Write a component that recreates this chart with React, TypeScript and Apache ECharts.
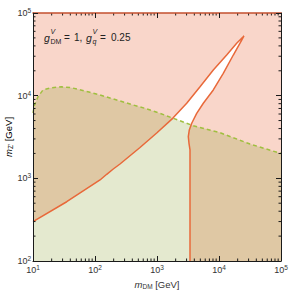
import React, { useEffect, useRef } from "react";
import * as echarts from "echarts";

// Dashed green boundary (m_DM [GeV], m_Z' [GeV])
const DASH_X = [10, 10.57, 12.05, 14.5, 19.7, 28.6, 41.5, 53.2, 80, 120, 224, 415, 640, 1117, 1832, 3846, 10000, 31620, 100000];
const DASH_Y = [6170, 7710, 9730, 11720, 12470, 12830, 12470, 11940, 11070, 10190, 8870, 7710, 7030, 6120, 5320, 4335, 3600, 2600, 1995];

// Orange contour: left (upper) branch, from left edge to the tip
const LEFT_X = [10, 35.0, 120.5, 154.5, 197, 253, 532, 989, 1791, 3013, 4943, 8090, 13300, 19280, 25290];
const LEFT_Y = [299, 521, 955, 1119, 1297, 1490, 2360, 3530, 5320, 8090, 12850, 20460, 31030, 42960, 52720];

// Orange contour: right branch, from the tip down to the bottom edge
const RIGHT_X = [25290, 23230, 17010, 11720, 8090, 5585, 4365, 3630, 3319, 3199, 3281, 3406, 3406];
const RIGHT_Y = [52720, 47100, 31030, 18660, 11720, 8090, 6120, 4634, 3846, 3192, 2655, 2203, 100];

const X_MIN = 10;
const X_MAX = 100000;
const Y_MIN = 100;
const Y_MAX = 100000;

const FONT = "'Liberation Sans', Arial, Helvetica, sans-serif";
const AXIS_COLOR = "#1a1a1a";
const PINK = "#f9d6ca";
const ORANGE = "#e8693a";
const DASH_GREEN = "#9fbf3f";
const GREEN_FILL = "rgba(120,145,15,0.2)";

function minorTicks(min: number, max: number): number[] {
  const out: number[] = [];
  for (let d = min; d < max; d *= 10) {
    for (let k = 2; k <= 9; k++) out.push(d * k);
  }
  return out;
}

const X_MINOR = minorTicks(X_MIN, X_MAX);
const Y_MINOR = minorTicks(Y_MIN, Y_MAX);

const zip = (xs: number[], ys: number[]) => xs.map((x, i) => [x, ys[i]]);

const supLabel = (v: number) => `{b|10}{s|${Math.round(Math.log10(v))}}`;

const labelRich = {
  b: { fontSize: 9, fontFamily: FONT, color: "#333" },
  s: { fontSize: 6.5, fontFamily: FONT, color: "#333", padding: [0, 0, 5, 0] },
};

const nameRich = {
  i: { fontSize: 9.5, fontFamily: FONT, fontStyle: "italic", color: "#333" },
  sub: { fontSize: 6.5, fontFamily: FONT, color: "#333", padding: [4, 0, 0, 0] },
  t: { fontSize: 9.5, fontFamily: FONT, color: "#333" },
};

function buildOption() {
  const contour = [...zip(LEFT_X, LEFT_Y), ...zip(RIGHT_X, RIGHT_Y).slice(1)];
  const dash = zip(DASH_X, DASH_Y);

  const polygonSeries = (pts: number[][], fill: string, z: number) => ({
    type: "custom",
    xAxisIndex: 0,
    yAxisIndex: 0,
    z,
    silent: true,
    data: [[X_MIN, Y_MIN]],
    renderItem: (_p: any, api: any) => ({
      type: "polygon",
      shape: { points: pts.map((p) => api.coord(p)) },
      style: { fill, stroke: "none" },
    }),
  });

  const ticksSeries = {
    type: "custom",
    xAxisIndex: 0,
    yAxisIndex: 0,
    z: 10,
    silent: true,
    clip: false,
    data: [[X_MIN, Y_MIN]],
    renderItem: (_p: any, api: any) => {
      const len = 2.5;
      const children: any[] = [];
      const style = { stroke: AXIS_COLOR, lineWidth: 1 };
      X_MINOR.forEach((v) => {
        const b = api.coord([v, Y_MIN]);
        const t = api.coord([v, Y_MAX]);
        children.push({ type: "line", shape: { x1: b[0], y1: b[1], x2: b[0], y2: b[1] - len }, style });
        children.push({ type: "line", shape: { x1: t[0], y1: t[1], x2: t[0], y2: t[1] + len }, style });
      });
      Y_MINOR.forEach((v) => {
        const l = api.coord([X_MIN, v]);
        const r = api.coord([X_MAX, v]);
        children.push({ type: "line", shape: { x1: l[0], y1: l[1], x2: l[0] + len, y2: l[1] }, style });
        children.push({ type: "line", shape: { x1: r[0], y1: r[1], x2: r[0] - len, y2: r[1] }, style });
      });
      return { type: "group", children };
    },
  };

  const txt = (text: string, x: number, y: number, size: number, italic = false) => ({
    type: "text",
    x,
    y,
    z: 20,
    style: {
      text,
      font: `${italic ? "italic " : ""}${size}px ${FONT}`,
      fill: "#222",
      verticalAlign: "middle",
      align: "left",
    },
  });

  return {
    animation: false,
    grid: {
      left: 33,
      right: 8,
      top: 13,
      bottom: 30,
      show: true,
      backgroundColor: PINK,
      borderWidth: 0,
      containLabel: false,
      outerBoundsMode: "none",
    },
    xAxis: [
      {
        type: "log",
        logBase: 10,
        min: X_MIN,
        max: X_MAX,
        position: "bottom",
        axisLine: { show: true, onZero: false, lineStyle: { color: AXIS_COLOR, width: 1 } },
        axisTick: { show: true, inside: true, length: 5, lineStyle: { color: AXIS_COLOR } },
        axisLabel: { formatter: supLabel, margin: 3, rich: labelRich },
        splitLine: { show: false },
        name: "{i|m}{sub|DM}{t| [GeV]}",
        nameLocation: "middle",
        nameGap: 15,
        nameTextStyle: { rich: nameRich },
        z: 12,
      },
      {
        type: "log",
        logBase: 10,
        min: X_MIN,
        max: X_MAX,
        position: "top",
        axisLine: { show: true, onZero: false, lineStyle: { color: "#c4502f", width: 1.5 } },
        axisTick: { show: true, inside: true, length: 5, lineStyle: { color: AXIS_COLOR } },
        axisLabel: { show: false },
        splitLine: { show: false },
        z: 12,
      },
    ],
    yAxis: [
      {
        type: "log",
        logBase: 10,
        min: Y_MIN,
        max: Y_MAX,
        position: "left",
        axisLine: { show: true, onZero: false, lineStyle: { color: AXIS_COLOR, width: 1 } },
        axisTick: { show: true, inside: true, length: 5, lineStyle: { color: AXIS_COLOR } },
        axisLabel: { formatter: supLabel, margin: 2, rich: labelRich },
        splitLine: { show: false },
        z: 12,
      },
      {
        type: "log",
        logBase: 10,
        min: Y_MIN,
        max: Y_MAX,
        position: "right",
        axisLine: { show: true, onZero: false, lineStyle: { color: AXIS_COLOR, width: 1 } },
        axisTick: { show: true, inside: true, length: 5, lineStyle: { color: AXIS_COLOR } },
        axisLabel: { show: false },
        splitLine: { show: false },
        z: 12,
      },
    ],
    series: [
      polygonSeries([...contour, [X_MIN, Y_MIN]], "#ffffff", 1),
      polygonSeries([...dash, [X_MAX, Y_MIN], [X_MIN, Y_MIN]], GREEN_FILL, 2),
      {
        type: "line",
        xAxisIndex: 0,
        yAxisIndex: 0,
        z: 4,
        data: dash,
        showSymbol: false,
        symbol: "none",
        silent: true,
        lineStyle: { color: DASH_GREEN, width: 1.5, type: [4, 3] },
      },
      {
        type: "line",
        xAxisIndex: 0,
        yAxisIndex: 0,
        z: 5,
        data: contour,
        showSymbol: false,
        symbol: "none",
        silent: true,
        lineStyle: { color: ORANGE, width: 1.5 },
      },
      ticksSeries,
    ],
    graphic: [
      {
        type: "text",
        x: 8,
        y: 137,
        rotation: Math.PI / 2,
        z: 20,
        style: {
          text: "{i|m}{sub|Z′}{t| [GeV]}",
          rich: nameRich,
          align: "center",
          verticalAlign: "middle",
        },
      },
      txt("g", 44, 37.5, 10.5, true),
      txt("V", 50.5, 31, 7, true),
      txt("DM", 50.5, 41, 7),
      txt("=", 64, 37.5, 10),
      txt("1,", 74, 37.5, 10),
      txt("g", 86, 37.5, 10.5, true),
      txt("V", 92.5, 31, 7, true),
      txt("q", 92.5, 41, 7, true),
      txt("=", 100, 37.5, 10),
      txt("0.25", 111, 37.5, 10),
    ],
  };
}

export default function App() {
  const ref = useRef<HTMLDivElement>(null);
  useEffect(() => {
    if (!ref.current) return;
    const chart = echarts.init(ref.current, null, { renderer: "svg" });
    chart.setOption(buildOption() as any);
    return () => chart.dispose();
  }, []);
  return (
    <div
      ref={ref}
      style={{ position: "absolute", left: 0, top: 0, width: 289, height: 291 }}
    />
  );
}
